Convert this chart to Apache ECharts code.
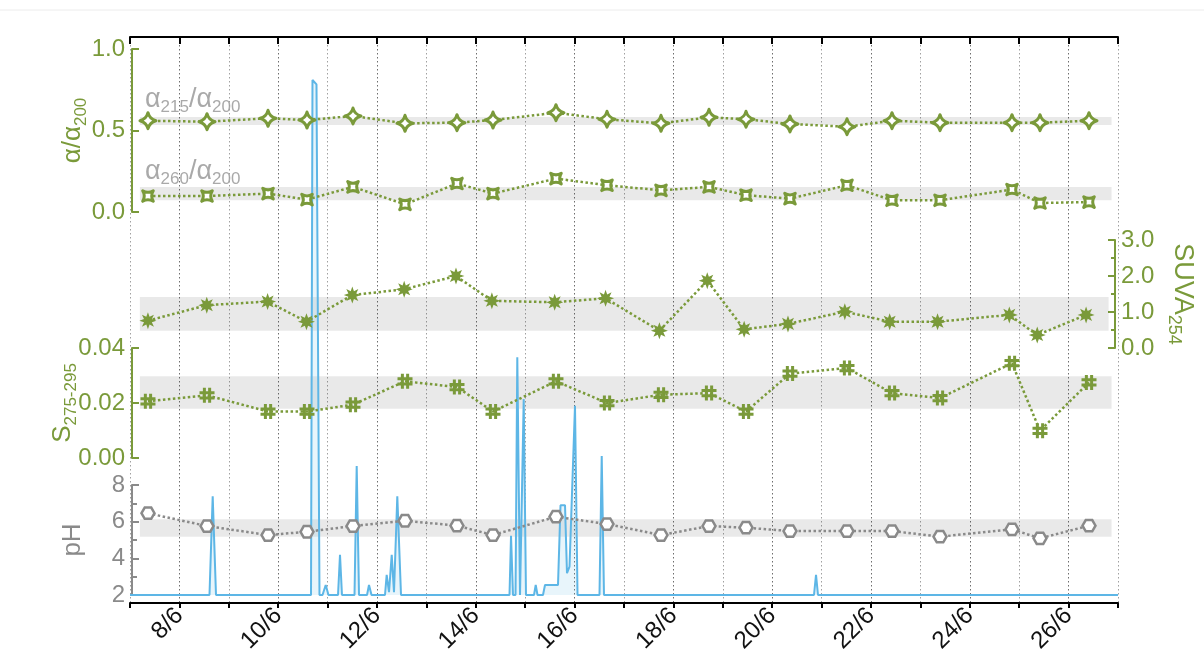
<!DOCTYPE html>
<html><head><meta charset="utf-8">
<script src="https://cdn.jsdelivr.net/npm/echarts@6/dist/echarts.min.js"></script>
<style>html,body{margin:0;padding:0;background:#fff}#c{width:1204px;height:671px}</style>
</head><body><div id="c"></div>
<script>
// ---------------- data ----------------
const xMin = 7, xMax = 27;                       // day of June
const tickLabelDays = [8, 10, 12, 14, 16, 18, 20, 22, 24, 26];
const tickLabels = tickLabelDays.map(d => d + '/6');

const sampleDays = [7.364, 8.559, 9.794, 10.583, 11.514, 12.567, 13.619, 14.348, 15.623, 16.656,
                    17.749, 18.721, 19.470, 20.360, 21.514, 22.425, 23.397, 24.854, 25.421, 26.413];
const a215 = [0.560, 0.554, 0.575, 0.564, 0.589, 0.544, 0.548, 0.564, 0.609, 0.569,
              0.544, 0.581, 0.569, 0.540, 0.523, 0.560, 0.548, 0.548, 0.548, 0.560];
const a260 = [0.098, 0.098, 0.113, 0.076, 0.154, 0.047, 0.175, 0.113, 0.205, 0.164,
              0.133, 0.154, 0.103, 0.082, 0.164, 0.072, 0.072, 0.138, 0.055, 0.061];
const suva = [0.76, 1.19, 1.29, 0.73, 1.47, 1.63, 2.00, 1.31, 1.27, 1.38,
              0.48, 1.87, 0.52, 0.67, 1.01, 0.73, 0.73, 0.92, 0.36, 0.92];
const slope = [0.0206, 0.0228, 0.0169, 0.0169, 0.0194, 0.0279, 0.0258, 0.0169, 0.0279, 0.0200,
               0.0230, 0.0236, 0.0169, 0.0307, 0.0327, 0.0236, 0.0218, 0.0345, 0.0099, 0.0275];
const ph = [6.46, 5.76, 5.27, 5.45, 5.76, 6.05, 5.78, 5.27, 6.27, 5.87,
            5.27, 5.76, 5.67, 5.49, 5.49, 5.49, 5.18, 5.58, 5.09, 5.78];

// typical ranges (grey bands)
const bandDays = [7.2, 26.87];
const bandA215 = [0.534, 0.583];
const bandA260 = [0.072, 0.154];
const bandSuva = [0.48, 1.42];
const bandSlope = [0.0179, 0.0297];
const bandPh = [5.18, 6.13];

// blue hydrograph (arbitrary units)
const flowDays = [7.000, 8.609, 8.674, 8.741, 10.664, 10.694, 10.775, 10.836, 10.897, 10.962, 11.018,
  11.211, 11.251, 11.291, 11.545, 11.589, 11.636, 11.798, 11.838, 11.889,
  12.162, 12.196, 12.243, 12.298, 12.344, 12.411, 12.486,
  14.682, 14.713, 14.753, 14.804, 14.840, 14.895, 14.925, 14.970, 15.016,
  15.178, 15.213, 15.249, 15.360, 15.401, 15.664, 15.715, 15.806, 15.846, 15.897, 15.937, 16.008, 16.059,
  16.504, 16.549, 16.595, 20.846, 20.887, 20.927, 27.000];
const flowValues = [0, 0, 17.7, 0, 0, 92.3, 91.5, 0, 0, 1.8, 0,
  0, 7.2, 0, 0, 23.1, 0, 0, 1.8, 0,
  0, 3.6, 0.5, 7.2, 0.5, 17.7, 0,
  0, 10.6, 0, 0, 42.6, 0, 0, 35.1, 0,
  0, 1.8, 0, 0, 1.8, 1.8, 16.1, 16.1, 3.9, 5.1, 5.4, 33.9, 0,
  0, 24.9, 0, 0, 3.6, 0, 0];

// ---------------- style ----------------
const GREEN = '#7a9a3a';
const GRAY = '#8a8a8a';
const LGRAY = '#a9a9a9';
const BLUE = '#5db6e6';
const FONT = '"Liberation Sans", Arial, Helvetica, sans-serif';
const L = 130, R = 1204 - 1118;
const TICKFS = 24;

function rich(color, big, small, drop) {
  return {
    b: { fontSize: big, fontFamily: FONT, color: color, fill: color, verticalAlign: 'top' },
    s: { fontSize: small, fontFamily: FONT, color: color, fill: color, verticalAlign: 'top', padding: [drop, 0, 0, 0] }
  };
}
function starPath(n, rOut, rIn) {
  let d = '';
  for (let i = 0; i < n * 2; i++) {
    const r = i % 2 ? rIn : rOut;
    const a = Math.PI * i / n - Math.PI / 2;
    d += (i ? 'L' : 'M') + (r * Math.cos(a)).toFixed(2) + ',' + (r * Math.sin(a)).toFixed(2);
  }
  return 'path://' + d + 'Z';
}
const ASTROID = 'path://M0,-10 Q2,-2 10,0 Q2,2 0,10 Q-2,2 -10,0 Q-2,-2 0,-10Z';
const STAR8 = starPath(8, 10, 5);
const HASH = 'path://M-5.5,-10H-1.5V10H-5.5Z M1.5,-10H5.5V10H1.5Z M-10,-5.5H10V-1.5H-10Z M-10,1.5H10V5.5H-10Z';
const HEX = 'path://M-10,0L-5,-8.66L5,-8.66L10,0L5,8.66L-5,8.66Z';

const zip = (xs, ys) => xs.map((x, i) => [x, ys[i]]);
const band = (lo, hi) => ({
  silent: true,
  itemStyle: { color: 'rgba(0,0,0,0.085)' },
  data: [[{ xAxis: bandDays[0], yAxis: lo }, { xAxis: bandDays[1], yAxis: hi }]]
});

const hiddenX = i => ({ type: 'value', gridIndex: i, min: xMin, max: xMax, show: false });
const leftY = (gi, min, max, interval, color, digits, name, gap, minor) => ({
  type: 'value', gridIndex: gi, min, max, interval, position: 'left', offset: -2,
  axisLine: { show: true, lineStyle: { color, width: 2 } },
  axisTick: { show: true, inside: true, length: 7, lineStyle: { color, width: 2 } },
  minorTick: { show: !!minor, splitNumber: 2, length: 5, lineStyle: { color, width: 2 } },
  axisLabel: { color, fontSize: TICKFS, fontFamily: FONT, margin: 7,
               formatter: v => digits >= 0 ? v.toFixed(digits) : String(v) },
  splitLine: { show: false },
  name, nameLocation: 'middle', nameGap: gap, nameRotate: 90, nameMoveOverlap: false,
  nameTextStyle: { color, rich: rich(color, 26, 17, 13) }
});

const chart = echarts.init(document.getElementById('c'), null, { renderer: 'canvas' });
chart.setOption({
  animation: false,
  backgroundColor: '#fff',
  grid: [
    { left: L, right: R, top: 37, height: 566 },   // frame
    { left: L, right: R, top: 49, height: 163 },   // a/a200
    { left: L, right: R, top: 240, height: 108 },  // SUVA
    { left: L, right: R, top: 348, height: 110 },  // S
    { left: L, right: R, top: 485, height: 110 },  // pH
    { left: L, right: R, top: 37, height: 558 }    // flow
  ],
  xAxis: [
    { type: 'value', gridIndex: 0, min: xMin, max: xMax, interval: 1, position: 'bottom',
      axisLine: { lineStyle: { color: '#000', width: 2 } },
      axisTick: { show: true, inside: false, length: 5, lineStyle: { color: '#000', width: 2 } },
      axisLabel: { rotate: 45, fontSize: TICKFS, fontFamily: FONT, color: '#111', margin: 9,
        formatter: v => { const i = tickLabelDays.indexOf(Math.round(v)); return i >= 0 ? tickLabels[i] : ''; } },
      splitLine: { show: true, lineStyle: { color: ['#a0a0a0', '#6e6e6e'], width: 1, type: [1.5, 2.5] } } },
    { type: 'value', gridIndex: 0, min: xMin, max: xMax, interval: 1, position: 'top',
      axisLine: { lineStyle: { color: '#000', width: 2 } },
      axisTick: { show: true, inside: true, length: 7, lineStyle: { color: '#000', width: 2 } },
      axisLabel: { show: false }, splitLine: { show: false } },
    hiddenX(1), hiddenX(2), hiddenX(3), hiddenX(4), hiddenX(5)
  ],
  yAxis: [
    { type: 'value', gridIndex: 0, min: 0, max: 1, show: false },
    leftY(1, 0, 1, 0.5, GREEN, 1, '{b|α/α}{s|200}', 42, false),
    { type: 'value', gridIndex: 2, min: 0, max: 3, interval: 1, position: 'right',
      axisLine: { show: true, lineStyle: { color: GREEN, width: 2 } },
      axisTick: { show: true, inside: true, length: 7, lineStyle: { color: GREEN, width: 2 } },
      minorTick: { show: true, splitNumber: 2, length: 4, lineStyle: { color: GREEN, width: 2 } },
      axisLabel: { color: GREEN, fontSize: TICKFS, fontFamily: FONT, margin: 6, formatter: v => v.toFixed(1) },
      splitLine: { show: false },
      name: '{b|SUVA}{s|254}', nameLocation: 'middle', nameGap: 50, nameRotate: -90, nameMoveOverlap: false,
      nameTextStyle: { color: GREEN, rich: rich(GREEN, 27, 18, 13) } },
    leftY(3, 0, 0.04, 0.02, GREEN, 2, '{b|S}{s|275-295}', 52, false),
    leftY(4, 2, 8, 2, GRAY, -1, '{b|pH}', 46, true),
    { type: 'value', gridIndex: 5, min: 0, max: 100, show: false }
  ],
  series: [
    { name: 'flow', type: 'line', xAxisIndex: 6, yAxisIndex: 5, data: zip(flowDays, flowValues),
      symbol: 'none', z: 1, lineStyle: { color: BLUE, width: 2 },
      areaStyle: { color: 'rgba(93,182,230,0.2)' } },
    { name: 'a215/a200', type: 'line', xAxisIndex: 2, yAxisIndex: 1, data: zip(sampleDays, a215),
      symbol: ASTROID, symbolSize: 16, symbolKeepAspect: true, z: 3,
      itemStyle: { color: '#fff', borderColor: GREEN, borderWidth: 3, borderJoin: 'round' },
      lineStyle: { color: GREEN, width: 2.5, type: 'dotted' }, markArea: band(bandA215[0], bandA215[1]) },
    { name: 'a260/a200', type: 'line', xAxisIndex: 2, yAxisIndex: 1, data: zip(sampleDays, a260),
      symbol: ASTROID, symbolSize: 15, symbolRotate: 45, symbolKeepAspect: true, z: 3,
      itemStyle: { color: '#fff', borderColor: GREEN, borderWidth: 3, borderJoin: 'round' },
      lineStyle: { color: GREEN, width: 2.5, type: 'dotted' }, markArea: band(bandA260[0], bandA260[1]) },
    { name: 'SUVA254', type: 'line', xAxisIndex: 3, yAxisIndex: 2, data: zip(sampleDays, suva),
      symbol: STAR8, symbolSize: 17, symbolKeepAspect: true, z: 3,
      itemStyle: { color: GREEN },
      lineStyle: { color: GREEN, width: 2.5, type: 'dotted' }, markArea: band(bandSuva[0], bandSuva[1]) },
    { name: 'S275-295', type: 'line', xAxisIndex: 4, yAxisIndex: 3, data: zip(sampleDays, slope),
      symbol: HASH, symbolSize: 15, symbolKeepAspect: true, z: 3,
      itemStyle: { color: GREEN },
      lineStyle: { color: GREEN, width: 2.5, type: 'dotted' }, markArea: band(bandSlope[0], bandSlope[1]) },
    { name: 'pH', type: 'line', xAxisIndex: 5, yAxisIndex: 4, data: zip(sampleDays, ph),
      symbol: HEX, symbolSize: 13, symbolKeepAspect: true, z: 3,
      itemStyle: { color: '#fff', borderColor: GRAY, borderWidth: 2.5 },
      lineStyle: { color: GRAY, width: 2.5, type: 'dotted' }, markArea: band(bandPh[0], bandPh[1]) }
  ],
  graphic: [
    { type: 'line', silent: true, shape: { x1: 0, y1: 10, x2: 1204, y2: 10 }, style: { stroke: '#ececec', lineWidth: 1 } },
    { type: 'text', x: 145, y: 86, silent: true,
      style: { text: '{b|α}{s|215}{b|/α}{s|200}', rich: rich(LGRAY, 27, 17, 13), fill: LGRAY } },
    { type: 'text', x: 145, y: 158, silent: true,
      style: { text: '{b|α}{s|260}{b|/α}{s|200}', rich: rich(LGRAY, 27, 17, 13), fill: LGRAY } }
  ]
});
</script></body></html>
